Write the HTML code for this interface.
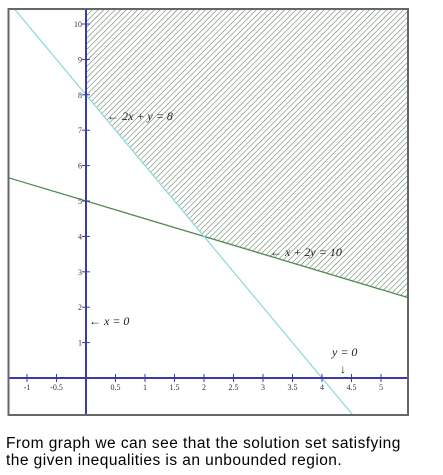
<!DOCTYPE html>
<html><head><meta charset="utf-8"><style>
body{margin:0;background:#fff;width:443px;height:475px;overflow:hidden}
svg{position:absolute;left:0;top:0}
.cap{position:absolute;left:6px;top:435px;font-family:"Liberation Sans",sans-serif;font-size:15.5px;letter-spacing:0.45px;line-height:17px;color:#000;white-space:nowrap}
</style></head><body>
<svg id="chart" width="443" height="420">
<defs>
<pattern id="hatch" width="4" height="4" patternUnits="userSpaceOnUse" patternTransform="rotate(45)">
<line x1="0" y1="0" x2="0" y2="4" stroke="#5a7a5a" stroke-width="1.1"/>
</pattern>
<clipPath id="clip"><rect x="8.5" y="9" width="399.5" height="406"/></clipPath>
</defs>
<g id="plot" clip-path="url(#clip)"></g>
<rect x="8.5" y="9" width="399.5" height="406" fill="none" stroke="#666" stroke-width="2"/>
</svg>
<div class="cap">From graph we can see that the solution set satisfying<br>the given inequalities is an unbounded region.</div>
<script>
const xTicks=[-1,-0.5,0.5,1,1.5,2,2.5,3,3.5,4,4.5,5];
const xTickLabels=["-1","-0.5","0.5","1","1.5","2","2.5","3","3.5","4","4.5","5"];
const yTicks=[1,2,3,4,5,6,7,8,9,10];
const yTickLabels=["1","2","3","4","5","6","7","8","9","10"];
const line1=[2,1,8]; // 2x + y = 8
const line2=[1,2,10]; // x + 2y = 10
const NS="http://www.w3.org/2000/svg";
const X=v=>86+v*59, Y=v=>378-v*35.4;
const xmin=-1.32,xmax=5.46,ymin=-1.05,ymax=10.45;
const g=document.getElementById('plot');
function mk(t,a,p){const e=document.createElementNS(NS,t);for(const k in a)e.setAttribute(k,a[k]);(p||g).appendChild(e);return e;}
function yOn(l,x){return (l[2]-l[0]*x)/l[1];}
let pts=[];const N=200;
for(let i=0;i<=N;i++){const x=0+(xmax-0)*i/N;const y=Math.max(yOn(line1,x),yOn(line2,x));pts.push(X(x)+","+Y(Math.min(y,ymax)));}
pts.push(X(xmax)+","+Y(ymax));pts.push(X(0)+","+Y(ymax));
let r=mk('polygon',{points:pts.join(' '),fill:'url(#hatch)'});


function drawLine(l,c,name){const x1=xmin,x2=xmax;const e=mk('line',{x1:X(x1),y1:Y(yOn(l,x1)),x2:X(x2),y2:Y(yOn(l,x2)),stroke:c,'stroke-width':1.3});

}
drawLine(line2,'#4f8a4f','line-x-plus-2y-eq-10');
drawLine(line1,'#8fdcdc','line-2x-plus-y-eq-8');
let ax=mk('line',{x1:8,y1:Y(0),x2:408,y2:Y(0),stroke:'#3a3aa8','stroke-width':2});


let ay=mk('line',{x1:X(0),y1:9,x2:X(0),y2:415,stroke:'#3a3aa8','stroke-width':2});


const tf='font-family:"Liberation Serif",serif;font-size:8px;fill:#333';
xTicks.forEach((v,i)=>{const t=mk('line',{x1:X(v),y1:Y(0)-4,x2:X(v),y2:Y(0)+4,stroke:'#3a3aa8','stroke-width':1});


const l=mk('text',{x:X(v),y:Y(0)+12,'text-anchor':'middle',style:tf});l.textContent=xTickLabels[i];

});
yTicks.forEach((v,i)=>{const t=mk('line',{x1:X(0)-4,y1:Y(v),x2:X(0)+4,y2:Y(v),stroke:'#3a3aa8','stroke-width':1});


const l=mk('text',{x:X(0)-4,y:Y(v)+3,'text-anchor':'end',style:tf});l.textContent=yTickLabels[i];

});
const lf='font-family:"Liberation Serif",serif;font-size:12px;font-style:italic;fill:#222';
function lab(x,y,s,n){const e=mk('text',{x:x,y:y,style:lf});e.textContent=s;

}
lab(107,120,'\u2190 2x + y = 8','label-2x-y-8');
lab(270,256,'\u2190 x + 2y = 10','label-x-2y-10');
lab(89,325,'\u2190 x = 0','label-x-0');
lab(332,356,'y = 0','label-y-0');
lab(340,373,'\u2193','arrow-y-0');
</script>
</body></html>
